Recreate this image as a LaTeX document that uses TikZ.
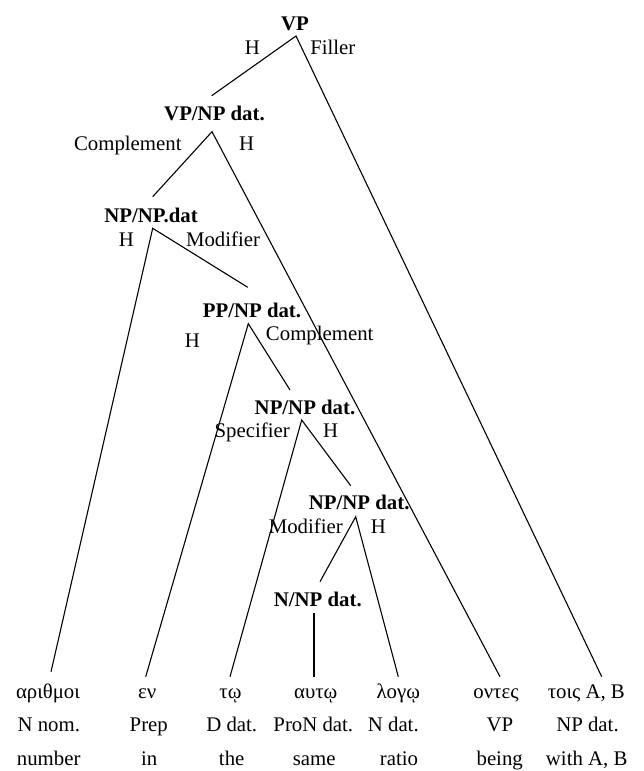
\documentclass[tikz,border=0pt]{standalone}
\usepackage{fontspec}
\setmainfont{Liberation Serif}
\begin{document}
\begin{tikzpicture}[x=1pt,y=-1pt,
  every node/.style={inner sep=0pt,anchor=base,font=\fontsize{20.8}{25}\selectfont},
  cat/.style={font=\fontsize{20.8}{25}\selectfont\bfseries},
  branch/.style={line width=1.1pt}]
\useasboundingbox (0,0) rectangle (644,771);

% category labels (baselines)
\node[cat] (vp)    at (295,30.7)   {VP};
\node[cat] (vpnp)  at (214.5,120)  {VP/NP dat.};
\node[cat] (npnpa) at (151,222.7)  {NP/NP.dat};
\node[cat] (ppnp)  at (252,317.3)  {PP/NP dat.};
\node[cat] (npnpb) at (305,414)    {NP/NP dat.};
\node[cat] (npnpc) at (359.2,509.3){NP/NP dat.};
\node[cat] (nnp)   at (317.8,606)  {N/NP dat.};

% function labels
\node (l1) at (252.5,54)  {H};
\node (l2) at (332.8,54)  {Filler};
\node (l3) at (127.8,150) {Complement};
\node (l4) at (246.7,150) {H};
\node (l5) at (126.3,246) {H};
\node (l6) at (223,246)   {Modifier};
\node (l7) at (192.5,347.3) {H};
\node (l8) at (319.7,340.7) {Complement};
\node (l9) at (252.2,437.3) {Specifier};
\node (l10) at (330.7,437.3) {H};
\node (l11) at (305.8,533.3) {Modifier};
\node (l12) at (378.3,533.3) {H};

% words with category and gloss
\node (w1) at (48,698.3)    {αριθμοι};
\node (c1) at (48.8,731.7)  {N nom.};
\node (g1) at (48.7,765)    {number};
\node (w2) at (147.2,698.3) {εν};
\node (c2) at (148.8,731.7) {Prep};
\node (g2) at (149.2,765)   {in};
\node (w3) at (230.5,698.3) {τῳ};
\node (c3) at (231.7,731.7) {D dat.};
\node (g3) at (231.7,765)   {the};
\node (w4) at (315.8,698.3) {αυτῳ};
\node (c4) at (313.3,731.7) {ProN dat.};
\node (g4) at (314.2,765)   {same};
\node (w5) at (398.3,698.3) {λογῳ};
\node (c5) at (393.3,731.7) {N dat.};
\node (g5) at (399,765)     {ratio};
\node (w6) at (496,698.3)   {οντες};
\node (c6) at (500,731.7)   {VP};
\node (g6) at (499.7,765)   {being};
\node (w7) at (586.3,698.3) {τοις A, B};
\node (c7) at (587.5,731.7) {NP dat.};
\node (g7) at (586.7,765)   {with A, B};

% branch end points
\coordinate (vp-a)    at (296,36);
\coordinate (vpnp-t)  at (211.7,95.7);
\coordinate (vpnp-a)  at (212,131.7);
\coordinate (npnpa-t) at (152.7,196.7);
\coordinate (npnpa-a) at (152.7,228.3);
\coordinate (ppnp-t)  at (247.7,287.3);
\coordinate (ppnp-a)  at (248.3,323.7);
\coordinate (npnpb-t) at (290,390);
\coordinate (npnpb-a) at (301.7,420);
\coordinate (npnpc-t) at (350.7,485.7);
\coordinate (npnpc-a) at (355.7,516.7);
\coordinate (nnp-t)   at (320,581.7);
\coordinate (nnp-a)   at (314,612.7);
\coordinate (w1-t) at (51,671.7);
\coordinate (w2-t) at (145.7,676.7);
\coordinate (w3-t) at (230,676.7);
\coordinate (w4-t) at (314,676.7);
\coordinate (w5-t) at (398.3,676.7);
\coordinate (w6-t) at (500,676.7);
\coordinate (w7-t) at (601.7,676.7);

% branches
\draw[branch] (vpnp-t) -- (vp-a) -- (w7-t);
\draw[branch] (npnpa-t) -- (vpnp-a) -- (w6-t);
\draw[branch] (w1-t) -- (npnpa-a) -- (ppnp-t);
\draw[branch] (w2-t) -- (ppnp-a) -- (npnpb-t);
\draw[branch] (w3-t) -- (npnpb-a) -- (npnpc-t);
\draw[branch] (nnp-t) -- (npnpc-a) -- (w5-t);
\draw[branch] (nnp-a) -- (w4-t);
\end{tikzpicture}
\end{document}
